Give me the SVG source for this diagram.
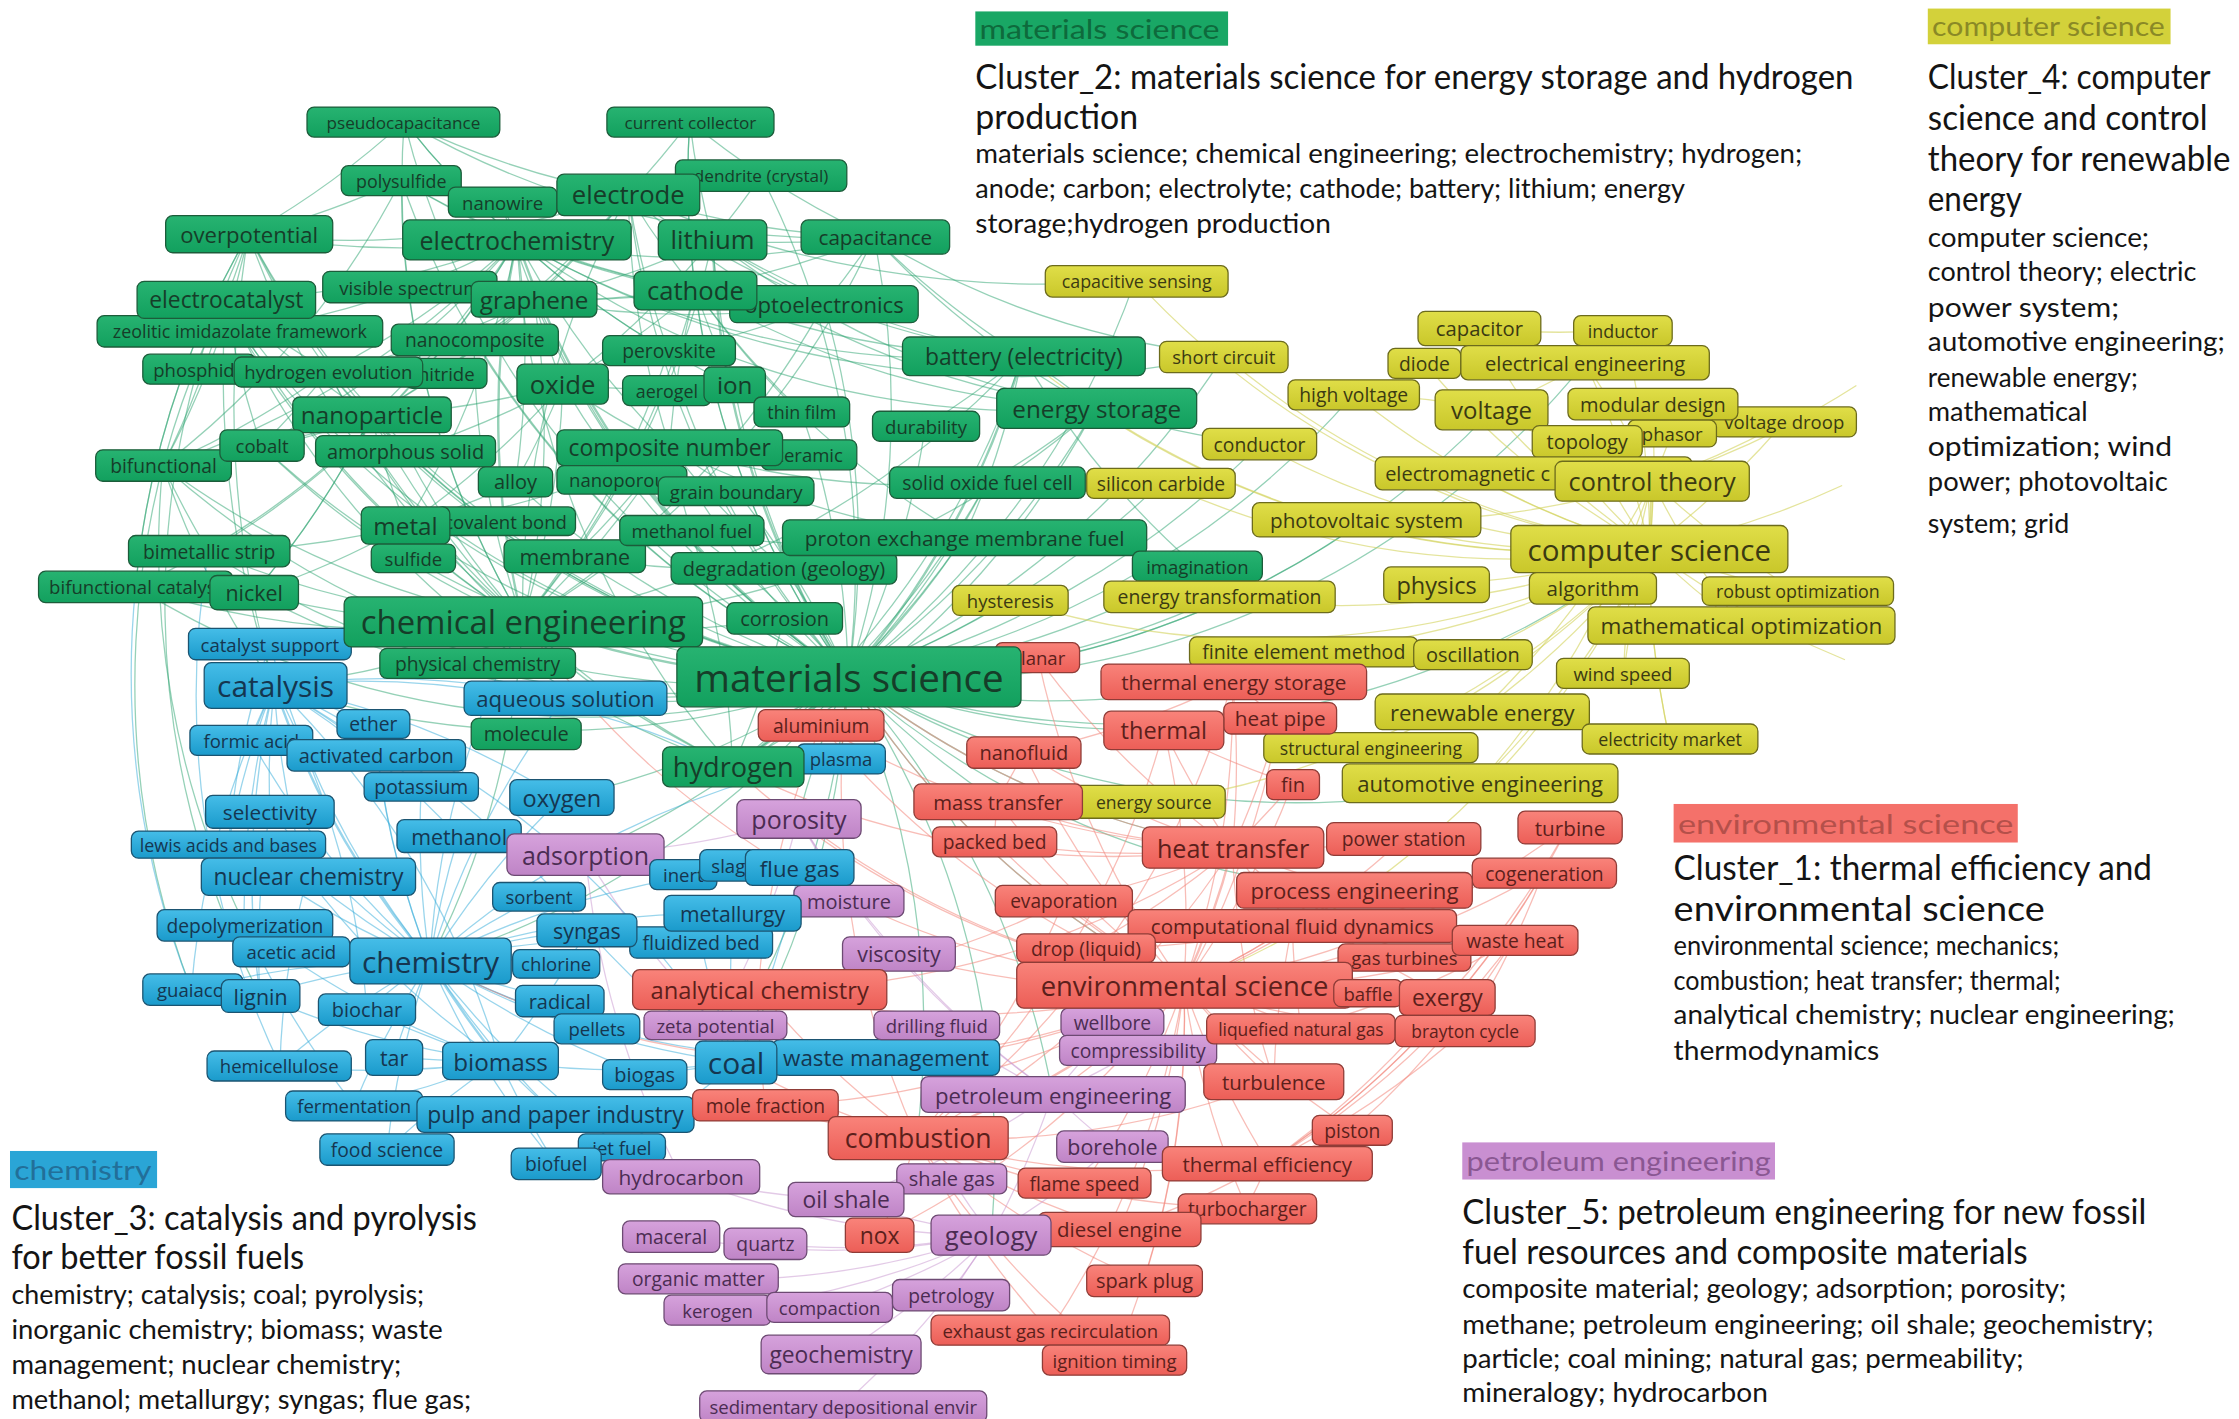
<svg xmlns="http://www.w3.org/2000/svg" width="2239" height="1419" viewBox="0 0 2239 1419">
<defs>
<linearGradient id="fg" x1="0" y1="0" x2="0" y2="1"><stop offset="0" stop-color="#27b371"/><stop offset="1" stop-color="#12a05e"/></linearGradient>
<linearGradient id="fb" x1="0" y1="0" x2="0" y2="1"><stop offset="0" stop-color="#45bde8"/><stop offset="1" stop-color="#1a9acb"/></linearGradient>
<linearGradient id="fy" x1="0" y1="0" x2="0" y2="1"><stop offset="0" stop-color="#e0de48"/><stop offset="1" stop-color="#c9c72a"/></linearGradient>
<linearGradient id="fr" x1="0" y1="0" x2="0" y2="1"><stop offset="0" stop-color="#f9837a"/><stop offset="1" stop-color="#ec5e57"/></linearGradient>
<linearGradient id="fp" x1="0" y1="0" x2="0" y2="1"><stop offset="0" stop-color="#d6a2dc"/><stop offset="1" stop-color="#bf84c6"/></linearGradient>
<style>
text{font-family:"Open Sans","Noto Sans","DejaVu Sans",sans-serif}
.n rect{rx:5px;ry:5px;stroke-width:.9}
.n text{text-anchor:middle;dominant-baseline:central}
.n text.s{text-anchor:start}
.g rect{fill:url(#fg);stroke:#1c5c3a}.g text{fill:#163d29}
.b rect{fill:url(#fb);stroke:#1b5471}.b text{fill:#153650}
.y rect{fill:url(#fy);stroke:#6c6b1c}.y text{fill:#3b3a12}
.r rect{fill:url(#fr);stroke:#8f3c37}.r text{fill:#5c1f1b}
.p rect{fill:url(#fp);stroke:#6d4a73}.p text{fill:#4b2c52}
#links path{fill:none;stroke-width:.9}
#links .w{stroke-width:1.7}
.eg{stroke:#2ba470;stroke-opacity:.5}
.eb{stroke:#33acd9;stroke-opacity:.5}
.er{stroke:#f2867b;stroke-opacity:.55}
.ey{stroke:#d2d25a;stroke-opacity:.6}
.ep{stroke:#c796cf;stroke-opacity:.5}
.leg text{font-family:Lato,"Open Sans",sans-serif;fill:#141414}
.leg .t{font-size:24px}
.leg .d{font-size:19px}
.leg .k{font-size:19px}
</style>
</defs>
<rect width="2239" height="1419" fill="#ffffff"/>
<g transform="scale(1.428)">
<g id="links">
<!-- materials science fan -->
<path class="eg w" d="M594 474A600 600 0 0 1 366 435"/>
<path class="eg w" d="M594 474A600 600 0 0 1 362 168"/>
<path class="eg" d="M594 474A600 600 0 0 1 440 136"/>
<path class="eg w" d="M594 474A600 600 0 0 1 499 168"/>
<path class="eg" d="M594 474A600 600 0 0 1 487 203"/>
<path class="eg" d="M594 474A600 600 0 0 0 612 166"/>
<path class="eg" d="M594 474A600 600 0 0 0 577 213"/>
<path class="eg" d="M594 474A600 600 0 0 1 374 210"/>
<path class="eg" d="M594 474A600 600 0 0 1 394 269"/>
<path class="eg" d="M594 474A600 600 0 0 1 260 291"/>
<path class="eg" d="M594 474A600 600 0 0 1 332 238"/>
<path class="eg" d="M594 474A600 600 0 0 1 468 246"/>
<path class="eg" d="M594 474A600 600 0 0 1 514 270"/>
<path class="eg" d="M594 474A600 600 0 0 1 469 313"/>
<path class="eg" d="M594 474A600 600 0 0 1 361 338"/>
<path class="eg" d="M594 474A600 600 0 0 1 284 368"/>
<path class="eg" d="M594 474A600 600 0 0 1 402 389"/>
<path class="eg w" d="M594 474A600 600 0 0 0 716 249"/>
<path class="eg" d="M594 474A600 600 0 0 0 767 286"/>
<path class="eg" d="M594 474A600 600 0 0 0 691 338"/>
<path class="eg" d="M594 474A600 600 0 0 0 675 376"/>
<path class="eg w" d="M594 474A600 600 0 0 1 513 537"/>
<path class="eg" d="M594 474A600 600 0 0 1 174 164"/>
<path class="eg" d="M594 474A600 600 0 0 1 158 210"/>
<path class="eg" d="M594 474A600 600 0 0 1 230 260"/>
<path class="eg" d="M594 474A600 600 0 0 1 483 85"/>
<path class="eg" d="M594 474A600 600 0 0 1 283 85"/>
<path class="eg" d="M594 474A600 600 0 0 0 533 123"/>
<path class="eg" d="M594 474A600 600 0 0 1 178 415"/>
<path class="eg" d="M594 474A600 600 0 0 1 146 386"/>
<path class="eg" d="M594 474A600 600 0 0 1 95 411"/>
<path class="eg" d="M594 474A600 600 0 0 1 114 326"/>
<path class="eg" d="M594 474A600 600 0 0 1 168 232"/>
<path class="eg" d="M594 474A600 600 0 0 1 183 312"/>
<path class="eg" d="M594 474A600 600 0 0 1 284 316"/>
<path class="eg" d="M594 474A600 600 0 0 1 281 126"/>
<path class="eg" d="M594 474A600 600 0 0 1 351 141"/>
<path class="eg" d="M594 474A600 600 0 0 0 549 398"/>
<path class="eg" d="M594 474A600 600 0 0 0 838 397"/>
<path class="eg" d="M594 474A600 600 0 0 1 192 480"/>
<path class="eg" d="M594 474A600 600 0 0 1 301 673"/>
<path class="eg" d="M594 474A600 600 0 0 0 829 690"/>
<path class="eg" d="M594 474A600 600 0 0 0 863 594"/>
<path class="eg" d="M594 474A600 600 0 0 1 642 797"/>
<path class="eg" d="M594 474A600 600 0 0 0 815 511"/>
<path class="eg" d="M594 474A600 600 0 0 0 863 477"/>
<path class="eg" d="M594 474A600 600 0 0 0 1155 384"/>
<path class="eg" d="M594 474A600 600 0 0 1 410 598"/>
<path class="eg" d="M594 474A600 600 0 0 1 395 489"/>
<path class="eg" d="M594 474A600 600 0 0 1 393 559"/>
<path class="eg" d="M594 474A600 600 0 0 0 795 196"/>
<path class="eg" d="M594 474A600 600 0 0 0 857 249"/>
<path class="eg" d="M594 474A600 600 0 0 0 948 623"/>
<path class="eg" d="M594 474A600 600 0 0 1 515 744"/>
<path class="eg" d="M594 474A600 600 0 0 1 531 693"/>
<path class="eg" d="M594 474A600 600 0 0 1 694 865"/>
<path class="eg" d="M594 474A600 600 0 0 0 1036 548"/>
<path class="eg" d="M594 474A600 600 0 0 0 1045 287"/>
<path class="eg" d="M594 474A600 600 0 0 0 956 364"/>
<path class="eg" d="M594 474A600 600 0 0 1 737 766"/>
<path class="eg" d="M594 474A600 600 0 0 0 1110 254"/>
<path class="eg" d="M594 474A600 600 0 0 0 882 311"/>
<path class="eg" d="M594 474A600 600 0 0 0 559 573"/>
<path class="eg" d="M594 474A600 600 0 0 0 648 298"/>
<path class="eg" d="M594 474A600 600 0 0 0 561 288"/>
<path class="eg" d="M594 474A600 600 0 0 0 515 343"/>
<path class="eg" d="M594 474A600 600 0 0 0 484 372"/>
<path class="eg" d="M594 474A600 600 0 0 0 948 276"/>
<path class="eg" d="M594 474A600 600 0 0 0 813 338"/>
<path class="eg" d="M594 474A600 600 0 0 0 854 418"/>
<path class="eg" d="M594 474A600 600 0 0 0 707 420"/>
<path class="eg" d="M594 474A600 600 0 0 0 717 527"/>
<path class="eg" d="M594 474A600 600 0 0 0 698 561"/>
<!-- chemical engineering -->
<path class="eg w" d="M366 435A600 600 0 0 1 362 168"/>
<path class="eg" d="M366 435A600 600 0 0 1 440 136"/>
<path class="eg" d="M366 435A600 600 0 0 0 499 168"/>
<path class="eg" d="M366 435A600 600 0 0 1 174 164"/>
<path class="eg" d="M366 435A600 600 0 0 1 158 210"/>
<path class="eg" d="M366 435A600 600 0 0 1 168 232"/>
<path class="eg" d="M366 435A600 600 0 0 1 230 260"/>
<path class="eg" d="M366 435A600 600 0 0 1 260 291"/>
<path class="eg" d="M366 435A600 600 0 0 0 374 210"/>
<path class="eg" d="M366 435A600 600 0 0 1 114 326"/>
<path class="eg" d="M366 435A600 600 0 0 1 183 312"/>
<path class="eg" d="M366 435A600 600 0 0 1 146 386"/>
<path class="eg" d="M366 435A600 600 0 0 1 95 411"/>
<path class="eg" d="M366 435A600 600 0 0 1 281 126"/>
<path class="eg" d="M366 435A600 600 0 0 0 487 203"/>
<path class="eg" d="M366 435A600 600 0 0 0 394 269"/>
<path class="eg" d="M366 435A600 600 0 0 1 192 480"/>
<path class="eg" d="M366 435A600 600 0 0 1 301 673"/>
<path class="eg" d="M366 435A600 600 0 0 0 513 537"/>
<path class="eg" d="M366 435A600 600 0 0 0 612 166"/>
<path class="eg" d="M366 435A600 600 0 0 0 716 249"/>
<path class="eg" d="M366 435A600 600 0 0 1 178 415"/>
<path class="eg" d="M366 435A600 600 0 0 1 283 85"/>
<path class="eg" d="M366 435A600 600 0 0 0 577 213"/>
<path class="eg" d="M366 435A600 600 0 0 0 468 246"/>
<path class="eg" d="M366 435A600 600 0 0 0 469 313"/>
<path class="eg" d="M366 435A600 600 0 0 1 284 316"/>
<path class="eg" d="M366 435A600 600 0 0 1 332 238"/>
<path class="eg" d="M366 435A600 600 0 0 0 767 286"/>
<path class="eg" d="M366 435A600 600 0 0 0 549 433"/>
<!-- electrochemistry -->
<path class="eg" d="M362 168A600 600 0 0 1 174 164"/>
<path class="eg" d="M362 168A600 600 0 0 1 158 210"/>
<path class="eg" d="M362 168A600 600 0 0 0 487 203"/>
<path class="eg" d="M362 168A600 600 0 0 1 260 291"/>
<path class="eg" d="M362 168A600 600 0 0 1 114 326"/>
<path class="eg" d="M362 168A600 600 0 0 1 230 260"/>
<path class="eg" d="M362 168A600 600 0 0 0 612 166"/>
<path class="eg" d="M362 168A600 600 0 0 0 577 213"/>
<path class="eg" d="M362 168A600 600 0 0 0 468 246"/>
<path class="eg" d="M362 168A600 600 0 0 0 469 313"/>
<path class="eg" d="M362 168A600 600 0 0 1 361 338"/>
<path class="eg" d="M362 168A600 600 0 0 1 283 85"/>
<path class="eg" d="M362 168A600 600 0 0 0 716 249"/>
<path class="eg" d="M362 168A600 600 0 0 1 183 312"/>
<path class="eg" d="M362 168A600 600 0 0 1 95 411"/>
<path class="eg" d="M362 168A600 600 0 0 1 146 386"/>
<path class="eg" d="M362 168A600 600 0 0 0 767 286"/>
<path class="eg" d="M362 168A600 600 0 0 1 168 232"/>
<path class="eg" d="M362 168A600 600 0 0 0 514 270"/>
<path class="eg" d="M362 168A600 600 0 0 1 284 368"/>
<!-- other green links -->
<path class="eg" d="M174 164A600 600 0 0 1 158 210"/>
<path class="eg" d="M174 164A600 600 0 0 0 230 260"/>
<path class="eg" d="M174 164A600 600 0 0 0 260 291"/>
<path class="eg" d="M174 164A600 600 0 0 1 114 326"/>
<path class="eg" d="M158 210A600 600 0 0 0 260 291"/>
<path class="eg" d="M158 210A600 600 0 0 1 114 326"/>
<path class="eg" d="M158 210A600 600 0 0 0 183 312"/>
<path class="eg" d="M230 260A600 600 0 0 0 284 316"/>
<path class="eg" d="M499 168A600 600 0 0 0 716 249"/>
<path class="eg" d="M487 203A600 600 0 0 0 716 249"/>
<path class="eg" d="M440 136A600 600 0 0 0 612 166"/>
<path class="eg" d="M612 166A600 600 0 0 0 767 286"/>
<path class="eg" d="M716 249A600 600 0 0 1 767 286"/>
<path class="eg" d="M469 313A600 600 0 0 1 284 368"/>
<path class="eg" d="M283 85A600 600 0 0 0 440 136"/>
<path class="eg" d="M283 85A600 600 0 0 0 612 166"/>
<path class="eg" d="M483 85A600 600 0 0 0 499 168"/>
<path class="eg" d="M483 85A600 600 0 0 1 440 136"/>
<path class="eg" d="M533 123A600 600 0 0 1 499 168"/>
<path class="eg" d="M577 213A600 600 0 0 1 468 246"/>
<path class="eg" d="M332 238A600 600 0 0 0 374 210"/>
<path class="eg" d="M174 164A600 600 0 0 0 95 411"/>
<path class="eg" d="M281 126A600 600 0 0 1 114 326"/>
<path class="eg" d="M281 126A600 600 0 0 0 487 203"/>
<path class="eg" d="M114 326A600 600 0 0 0 146 386"/>
<path class="eg" d="M178 415A600 600 0 0 0 260 291"/>
<path class="eg" d="M95 411A600 600 0 0 1 174 164"/>
<path class="eg" d="M174 164A600 600 0 0 0 182 697"/>
<path class="eg" d="M158 210A600 600 0 0 0 134 693"/>
<path class="eg" d="M114 326A600 600 0 0 0 171 647"/>
<path class="eg" d="M716 249A600 600 0 0 0 838 397"/>
<path class="eg" d="M612 166A600 600 0 0 0 857 249"/>
<path class="eg" d="M767 286A600 600 0 0 1 691 338"/>
<path class="eg" d="M440 136A600 600 0 0 0 716 249"/>
<path class="eg" d="M499 168A600 600 0 0 0 767 286"/>
<path class="eg" d="M487 203A600 600 0 0 0 675 376"/>
<path class="eg" d="M440 136A600 600 0 0 1 174 164"/>
<path class="eg" d="M440 136A600 600 0 0 1 374 210"/>
<path class="eg" d="M440 136A600 600 0 0 0 487 203"/>
<path class="eg" d="M440 136A600 600 0 0 1 332 238"/>
<path class="eg" d="M440 136A600 600 0 0 1 260 291"/>
<path class="eg" d="M440 136A600 600 0 0 0 468 246"/>
<path class="eg" d="M440 136A600 600 0 0 0 767 286"/>
<path class="eg" d="M440 136A600 600 0 0 0 469 313"/>
<path class="eg" d="M499 168A600 600 0 0 1 394 269"/>
<path class="eg" d="M499 168A600 600 0 0 0 514 270"/>
<path class="eg" d="M499 168A600 600 0 0 0 612 166"/>
<path class="eg" d="M499 168A600 600 0 0 0 577 213"/>
<path class="eg" d="M499 168A600 600 0 0 1 374 210"/>
<path class="eg" d="M487 203A600 600 0 0 0 514 270"/>
<path class="eg" d="M487 203A600 600 0 0 1 394 269"/>
<path class="eg" d="M487 203A600 600 0 0 1 374 210"/>
<path class="eg" d="M487 203A600 600 0 0 0 767 286"/>
<path class="eg" d="M487 203A600 600 0 0 0 469 313"/>
<path class="eg" d="M487 203A600 600 0 0 0 561 288"/>
<path class="eg" d="M374 210A600 600 0 0 1 230 260"/>
<path class="eg" d="M374 210A600 600 0 0 1 260 291"/>
<path class="eg" d="M374 210A600 600 0 0 0 394 269"/>
<path class="eg" d="M374 210A600 600 0 0 0 612 166"/>
<path class="eg" d="M374 210A600 600 0 0 0 577 213"/>
<path class="eg" d="M394 269A600 600 0 0 1 260 291"/>
<path class="eg" d="M394 269A600 600 0 0 0 514 270"/>
<path class="eg" d="M394 269A600 600 0 0 1 284 316"/>
<path class="eg" d="M394 269A600 600 0 0 1 284 368"/>
<path class="eg" d="M394 269A600 600 0 0 0 469 313"/>
<path class="eg" d="M394 269A600 600 0 0 1 361 338"/>
<path class="eg" d="M260 291A600 600 0 0 1 183 312"/>
<path class="eg" d="M260 291A600 600 0 0 1 114 326"/>
<path class="eg" d="M260 291A600 600 0 0 0 284 368"/>
<path class="eg" d="M260 291A600 600 0 0 1 178 415"/>
<path class="eg" d="M469 313A600 600 0 0 1 402 389"/>
<path class="eg" d="M469 313A600 600 0 0 0 515 343"/>
<path class="eg" d="M469 313A600 600 0 0 0 549 398"/>
<path class="eg" d="M469 313A600 600 0 0 0 484 372"/>
<path class="eg" d="M469 313A600 600 0 0 0 675 376"/>
<path class="eg" d="M469 313A600 600 0 0 0 691 338"/>
<path class="eg" d="M513 537A600 600 0 0 0 675 376"/>
<path class="eg" d="M513 537A600 600 0 0 0 484 372"/>
<path class="eg" d="M513 537A600 600 0 0 0 691 338"/>
<path class="eg" d="M513 537A600 600 0 0 0 767 286"/>
<path class="eg" d="M513 537A600 600 0 0 0 716 249"/>
<path class="eg" d="M513 537A600 600 0 0 0 549 433"/>
<path class="eg" d="M513 537A600 600 0 0 1 362 168"/>
<path class="eg" d="M513 537A600 600 0 0 1 158 210"/>
<path class="eg" d="M513 537A600 600 0 0 1 230 260"/>
<path class="eg" d="M612 166A600 600 0 0 0 716 249"/>
<path class="eg" d="M612 166A600 600 0 0 1 577 213"/>
<path class="eg" d="M284 368A600 600 0 0 1 178 415"/>
<path class="eg" d="M284 368A600 600 0 0 1 146 386"/>
<path class="eg" d="M284 368A600 600 0 0 0 361 338"/>
<path class="eg" d="M230 260A600 600 0 0 1 158 210"/>
<path class="eg" d="M230 260A600 600 0 0 1 183 312"/>
<path class="eg" d="M230 260A600 600 0 0 1 114 326"/>
<path class="eg" d="M716 249A600 600 0 0 1 691 338"/>
<path class="eg" d="M716 249A600 600 0 0 1 648 298"/>
<path class="eg" d="M675 376A600 600 0 0 0 691 338"/>
<path class="eg" d="M675 376A600 600 0 0 1 484 372"/>
<path class="eg" d="M675 376A600 600 0 0 1 402 389"/>
<path class="eg" d="M174 164A700 700 0 0 0 192 480"/>
<path class="eg" d="M158 210A700 700 0 0 0 192 480"/>
<path class="eg" d="M114 326A600 600 0 0 0 192 480"/>
<path class="eg" d="M281 126A600 600 0 0 1 174 164"/>
<path class="eg" d="M283 85A600 600 0 0 1 174 164"/>
<path class="eg" d="M283 85A600 600 0 0 0 362 168"/>
<path class="eg" d="M483 85A600 600 0 0 0 487 203"/>
<path class="eg" d="M483 85A600 600 0 0 0 612 166"/>
<path class="eg" d="M533 123A600 600 0 0 1 440 136"/>
<path class="eg" d="M351 141A600 600 0 0 0 440 136"/>
<path class="eg" d="M351 141A600 600 0 0 1 362 168"/>
<path class="eg" d="M281 126A600 600 0 0 0 362 168"/>
<path class="eg" d="M440 136A700 700 0 0 0 795 196"/>
<path class="eg" d="M362 168A700 700 0 0 0 857 249"/>
<path class="eg" d="M767 286A600 600 0 0 0 882 311"/>
<!-- chemistry / catalysis -->
<path class="eb w" d="M301 673A600 600 0 0 1 192 480"/>
<path class="eb" d="M301 673A600 600 0 0 1 215 614"/>
<path class="eb" d="M301 673A600 600 0 0 1 189 568"/>
<path class="eb" d="M301 673A600 600 0 0 1 160 591"/>
<path class="eb" d="M301 673A600 600 0 0 1 171 647"/>
<path class="eb" d="M301 673A600 600 0 0 0 182 697"/>
<path class="eb" d="M301 673A600 600 0 0 0 134 693"/>
<path class="eb" d="M301 673A600 600 0 0 0 257 707"/>
<path class="eb" d="M301 673A600 600 0 0 0 196 746"/>
<path class="eb" d="M301 673A600 600 0 0 0 276 740"/>
<path class="eb w" d="M301 673A600 600 0 0 0 350 743"/>
<path class="eb" d="M301 673A600 600 0 0 0 248 774"/>
<path class="eb" d="M301 673A600 600 0 0 0 271 805"/>
<path class="eb" d="M301 673A600 600 0 0 0 389 780"/>
<path class="eb" d="M301 673A600 600 0 0 0 389 815"/>
<path class="eb" d="M301 673A600 600 0 0 0 515 744"/>
<path class="eb" d="M301 673A600 600 0 0 1 513 640"/>
<path class="eb" d="M301 673A600 600 0 0 1 411 651"/>
<path class="eb" d="M301 673A600 600 0 0 1 321 586"/>
<path class="eb" d="M301 673A600 600 0 0 1 295 551"/>
<path class="eb" d="M301 673A600 600 0 0 1 264 528"/>
<path class="eb" d="M301 673A600 600 0 0 1 176 519"/>
<path class="eb" d="M301 673A600 600 0 0 1 189 451"/>
<path class="eb" d="M301 673A600 600 0 0 1 377 628"/>
<path class="eb" d="M301 673A600 600 0 0 0 391 700"/>
<path class="eb" d="M301 673A600 600 0 0 0 418 720"/>
<path class="eb" d="M301 673A600 600 0 0 0 451 752"/>
<path class="eb" d="M301 673A600 600 0 0 0 435 803"/>
<path class="eb" d="M301 673A600 600 0 0 1 491 661"/>
<path class="eb" d="M301 673A600 600 0 0 1 560 607"/>
<path class="eb" d="M301 673A600 600 0 0 0 620 740"/>
<path class="eb" d="M301 673A600 600 0 0 1 393 559"/>
<path class="eb" d="M301 673A600 600 0 0 1 395 489"/>
<path class="eb" d="M301 673A600 600 0 0 1 366 435"/>
<path class="eb" d="M301 673A600 600 0 0 1 389 674"/>
<path class="eb" d="M301 673A600 600 0 0 1 262 506"/>
<path class="eb" d="M301 673A600 600 0 0 1 589 531"/>
<path class="eb" d="M192 480A600 600 0 0 0 189 568"/>
<path class="eb" d="M192 480A600 600 0 0 0 176 519"/>
<path class="eb" d="M192 480A600 600 0 0 1 264 528"/>
<path class="eb" d="M192 480A600 600 0 0 0 215 614"/>
<path class="eb" d="M192 480A600 600 0 0 0 160 591"/>
<path class="eb" d="M192 480A600 600 0 0 0 171 647"/>
<path class="eb" d="M192 480A600 600 0 0 1 295 551"/>
<path class="eb" d="M192 480A600 600 0 0 1 321 586"/>
<path class="eb" d="M192 480A600 600 0 0 0 182 697"/>
<path class="eb" d="M192 480A600 600 0 0 1 257 707"/>
<path class="eb" d="M192 480A600 600 0 0 1 350 743"/>
<path class="eb" d="M192 480A600 600 0 0 1 262 506"/>
<path class="eb" d="M192 480A600 600 0 0 1 515 744"/>
<path class="eb" d="M192 480A600 600 0 0 1 395 489"/>
<path class="eb" d="M192 480A600 600 0 0 1 393 559"/>
<path class="eb" d="M192 480A600 600 0 0 0 134 693"/>
<path class="eb" d="M192 480A600 600 0 0 1 513 537"/>
<path class="eb" d="M192 480A600 600 0 0 1 411 651"/>
<path class="eb" d="M350 743A600 600 0 0 1 248 774"/>
<path class="eb" d="M350 743A600 600 0 0 1 196 746"/>
<path class="eb" d="M350 743A600 600 0 0 1 257 707"/>
<path class="eb" d="M350 743A600 600 0 0 1 276 740"/>
<path class="eb" d="M350 743A600 600 0 0 0 389 780"/>
<path class="eb" d="M350 743A600 600 0 0 0 389 815"/>
<path class="eb" d="M350 743A600 600 0 0 0 515 744"/>
<path class="eb" d="M350 743A600 600 0 0 0 411 651"/>
<path class="eb" d="M350 743A600 600 0 0 0 418 720"/>
<path class="eb" d="M350 743A600 600 0 0 0 271 805"/>
<path class="eb" d="M350 743A600 600 0 0 1 182 697"/>
<path class="eb" d="M350 743A600 600 0 0 1 171 647"/>
<path class="eb" d="M515 744A600 600 0 0 0 620 740"/>
<path class="eb" d="M515 744A600 600 0 0 0 560 607"/>
<path class="eb" d="M515 744A600 600 0 0 1 451 752"/>
<path class="eb" d="M515 744A600 600 0 0 1 513 640"/>
<path class="eb" d="M515 744A600 600 0 0 1 491 661"/>
<path class="eb" d="M515 744A600 600 0 0 1 411 651"/>
<path class="eb" d="M515 744A600 600 0 0 1 435 803"/>
<path class="eb" d="M95 411A600 600 0 0 0 134 693"/>
<path class="eb" d="M146 386A600 600 0 0 0 196 746"/>
<path class="eb" d="M189 451A600 600 0 0 0 160 591"/>
<path class="eb" d="M215 614A600 600 0 0 0 196 746"/>
<path class="eb" d="M215 614A600 600 0 0 0 350 743"/>
<path class="eb" d="M189 568A600 600 0 0 0 182 697"/>
<path class="eb" d="M171 647A600 600 0 0 0 248 774"/>
<!-- environmental science -->
<path class="er w" d="M829 690A600 600 0 0 0 863 594"/>
<path class="er w" d="M829 690A600 600 0 0 1 642 797"/>
<path class="er" d="M829 690A600 600 0 0 0 815 511"/>
<path class="er" d="M829 690A600 600 0 0 0 863 477"/>
<path class="er" d="M829 690A600 600 0 0 0 948 623"/>
<path class="er" d="M829 690A600 600 0 0 0 905 648"/>
<path class="er" d="M829 690A600 600 0 0 1 531 693"/>
<path class="er" d="M829 690A600 600 0 0 0 888 814"/>
<path class="er" d="M829 690A600 600 0 0 0 892 757"/>
<path class="er" d="M829 690A600 600 0 0 1 784 861"/>
<path class="er" d="M829 690A600 600 0 0 0 983 587"/>
<path class="er" d="M829 690A600 600 0 0 0 1098 579"/>
<path class="er" d="M829 690A600 600 0 0 0 1081 610"/>
<path class="er" d="M829 690A600 600 0 0 0 1060 658"/>
<path class="er" d="M829 690A600 600 0 0 0 1013 698"/>
<path class="er" d="M829 690A600 600 0 0 0 1026 721"/>
<path class="er" d="M829 690A600 600 0 0 1 911 720"/>
<path class="er" d="M829 690A600 600 0 0 1 698 561"/>
<path class="er" d="M829 690A600 600 0 0 1 717 527"/>
<path class="er" d="M829 690A600 600 0 0 1 696 589"/>
<path class="er" d="M829 690A600 600 0 0 1 745 631"/>
<path class="er" d="M829 690A600 600 0 0 0 905 549"/>
<path class="er" d="M829 690A600 600 0 0 0 896 503"/>
<path class="er" d="M829 690A600 600 0 0 0 947 791"/>
<path class="er" d="M829 690A600 600 0 0 0 873 846"/>
<path class="er" d="M829 690A600 600 0 0 1 760 828"/>
<path class="er" d="M829 690A600 600 0 0 1 801 897"/>
<path class="er" d="M829 690A600 600 0 0 1 735 932"/>
<path class="er" d="M829 690A600 600 0 0 1 780 952"/>
<path class="er" d="M829 690A600 600 0 0 1 536 774"/>
<path class="er" d="M829 690A600 600 0 0 1 616 865"/>
<path class="er" d="M829 690A600 600 0 0 1 575 508"/>
<path class="er" d="M829 690A600 600 0 0 1 727 461"/>
<path class="er" d="M829 690A600 600 0 0 1 513 537"/>
<path class="er" d="M829 690A600 600 0 0 1 301 673"/>
<path class="er" d="M829 690A600 600 0 0 1 366 435"/>
<path class="er" d="M829 690A600 600 0 0 1 594 474"/>
<path class="er" d="M829 690A600 600 0 0 1 559 573"/>
<path class="er" d="M829 690A600 600 0 0 1 515 744"/>
<path class="er" d="M829 690A600 600 0 0 1 629 668"/>
<path class="er" d="M829 690A600 600 0 0 1 737 766"/>
<!-- heat transfer -->
<path class="er" d="M863 594A600 600 0 0 1 815 511"/>
<path class="er" d="M863 594A600 600 0 0 0 863 477"/>
<path class="er" d="M863 594A600 600 0 0 0 905 648"/>
<path class="er" d="M863 594A600 600 0 0 0 905 549"/>
<path class="er" d="M863 594A600 600 0 0 0 896 503"/>
<path class="er" d="M863 594A600 600 0 0 1 717 527"/>
<path class="er" d="M863 594A600 600 0 0 1 698 561"/>
<path class="er" d="M863 594A600 600 0 0 1 696 589"/>
<path class="er" d="M863 594A600 600 0 0 1 745 631"/>
<path class="er" d="M863 594A600 600 0 0 0 948 623"/>
<path class="er" d="M863 594A600 600 0 0 0 983 587"/>
<path class="er" d="M863 594A600 600 0 0 0 1013 698"/>
<path class="er" d="M863 594A600 600 0 0 0 892 757"/>
<path class="er" d="M863 594A600 600 0 0 1 594 474"/>
<path class="er" d="M863 594A600 600 0 0 1 642 797"/>
<path class="er" d="M863 594A600 600 0 0 1 513 537"/>
<path class="er" d="M863 594A600 600 0 0 1 531 693"/>
<path class="er" d="M863 594A600 600 0 0 1 575 508"/>
<path class="er" d="M863 594A600 600 0 0 1 727 461"/>
<path class="er" d="M863 594A600 600 0 0 1 760 664"/>
<!-- combustion -->
<path class="er" d="M642 797A600 600 0 0 1 616 865"/>
<path class="er" d="M642 797A600 600 0 0 0 784 861"/>
<path class="er" d="M642 797A600 600 0 0 0 760 828"/>
<path class="er" d="M642 797A600 600 0 0 0 888 814"/>
<path class="er" d="M642 797A600 600 0 0 0 735 932"/>
<path class="er" d="M642 797A600 600 0 0 0 780 952"/>
<path class="er" d="M642 797A600 600 0 0 0 801 897"/>
<path class="er" d="M642 797A600 600 0 0 1 536 774"/>
<path class="er" d="M642 797A600 600 0 0 1 531 693"/>
<path class="er" d="M642 797A600 600 0 0 0 873 846"/>
<path class="er" d="M642 797A600 600 0 0 0 892 757"/>
<path class="er" d="M642 797A600 600 0 0 1 515 744"/>
<path class="er" d="M642 797A600 600 0 0 0 863 477"/>
<path class="er" d="M642 797A600 600 0 0 0 815 511"/>
<path class="er" d="M642 797A600 600 0 0 0 745 631"/>
<path class="er" d="M642 797A600 600 0 0 1 594 474"/>
<path class="er" d="M531 693A600 600 0 0 0 536 774"/>
<path class="er" d="M531 693A600 600 0 0 1 575 508"/>
<path class="er" d="M531 693A600 600 0 0 0 745 631"/>
<!-- thermal efficiency and process links -->
<path class="er" d="M888 814A600 600 0 0 0 947 791"/>
<path class="er" d="M888 814A600 600 0 0 1 873 846"/>
<path class="er" d="M888 814A600 600 0 0 0 1013 698"/>
<path class="er" d="M888 814A600 600 0 0 0 1026 721"/>
<path class="er" d="M888 814A600 600 0 0 0 1060 658"/>
<path class="er" d="M888 814A600 600 0 0 0 1081 610"/>
<path class="er" d="M888 814A600 600 0 0 0 1098 579"/>
<path class="er" d="M888 814A600 600 0 0 1 784 861"/>
<path class="er" d="M1013 698A600 600 0 0 0 1098 579"/>
<path class="er" d="M1026 721A600 600 0 0 0 1081 610"/>
<path class="er" d="M911 720A600 600 0 0 0 1060 658"/>
<path class="er" d="M947 791A600 600 0 0 0 1060 658"/>
<path class="er" d="M948 623A600 600 0 0 0 1060 658"/>
<path class="er" d="M948 623A600 600 0 0 0 1081 610"/>
<path class="er" d="M948 623A600 600 0 0 1 905 648"/>
<path class="er" d="M905 648A600 600 0 0 1 760 664"/>
<path class="er" d="M905 648A600 600 0 0 0 911 720"/>
<path class="er" d="M905 648A600 600 0 0 0 892 757"/>
<path class="er" d="M863 477A600 600 0 0 1 717 527"/>
<path class="er" d="M863 477A600 600 0 0 0 896 503"/>
<path class="er" d="M815 511A600 600 0 0 0 905 549"/>
<path class="er" d="M717 527A600 600 0 0 1 698 561"/>
<path class="er" d="M696 589A600 600 0 0 0 698 561"/>
<!-- computer science -->
<path class="ey w" d="M1155 384A600 600 0 0 0 1157 337"/>
<path class="ey" d="M1155 384A600 600 0 0 1 1045 287"/>
<path class="ey" d="M1155 384A600 600 0 0 0 1110 254"/>
<path class="ey" d="M1155 384A600 600 0 0 1 1036 230"/>
<path class="ey" d="M1155 384A600 600 0 0 0 1137 231"/>
<path class="ey" d="M1155 384A600 600 0 0 1 997 254"/>
<path class="ey" d="M1155 384A600 600 0 0 1 948 276"/>
<path class="ey" d="M1155 384A600 600 0 0 0 1157 283"/>
<path class="ey" d="M1155 384A600 600 0 0 0 1250 295"/>
<path class="ey" d="M1155 384A600 600 0 0 1 1112 310"/>
<path class="ey" d="M1155 384A600 600 0 0 1 1030 332"/>
<path class="ey" d="M1155 384A600 600 0 0 1 956 364"/>
<path class="ey" d="M1155 384A600 600 0 0 1 1006 409"/>
<path class="ey" d="M1155 384A600 600 0 0 1 1115 412"/>
<path class="ey" d="M1155 384A600 600 0 0 0 1258 414"/>
<path class="ey" d="M1155 384A600 600 0 0 0 1219 438"/>
<path class="ey" d="M1155 384A600 600 0 0 1 1031 459"/>
<path class="ey" d="M1155 384A600 600 0 0 1 913 456"/>
<path class="ey" d="M1155 384A600 600 0 0 0 1137 471"/>
<path class="ey" d="M1155 384A600 600 0 0 1 1037 498"/>
<path class="ey" d="M1155 384A600 600 0 0 0 1169 517"/>
<path class="ey" d="M1155 384A600 600 0 0 1 960 524"/>
<path class="ey" d="M1155 384A600 600 0 0 1 1036 548"/>
<path class="ey" d="M1155 384A600 600 0 0 1 854 418"/>
<path class="ey" d="M1155 384A600 600 0 0 1 882 311"/>
<path class="ey" d="M1155 384A600 600 0 0 1 857 249"/>
<path class="ey" d="M1155 384A600 600 0 0 1 795 196"/>
<path class="ey" d="M1155 384A600 600 0 0 1 707 420"/>
<path class="ey" d="M1155 384A600 600 0 0 1 808 562"/>
<path class="ey" d="M1155 384A600 600 0 0 1 813 338"/>
<path class="ey" d="M1155 384A600 600 0 0 1 829 690"/>
<path class="ey" d="M1155 384A600 600 0 0 1 767 286"/>
<path class="ey" d="M1155 384A600 600 0 0 1 716 249"/>
<path class="ey" d="M1155 384A600 600 0 0 0 1290 340"/>
<path class="ey" d="M1155 384A600 600 0 0 0 1292 462"/>
<path class="ey" d="M1157 337A600 600 0 0 1 1045 287"/>
<path class="ey" d="M1157 337A600 600 0 0 0 1110 254"/>
<path class="ey" d="M1157 337A600 600 0 0 0 1250 295"/>
<path class="ey" d="M1157 337A600 600 0 0 0 1171 303"/>
<path class="ey" d="M1157 337A600 600 0 0 1 956 364"/>
<path class="ey" d="M1157 337A600 600 0 0 1 1037 498"/>
<path class="ey" d="M1157 337A600 600 0 0 0 1219 438"/>
<path class="ey" d="M1157 337A600 600 0 0 0 1258 414"/>
<path class="ey" d="M1157 337A600 600 0 0 0 1137 471"/>
<path class="ey" d="M1157 337A600 600 0 0 1 1036 548"/>
<path class="ey" d="M1157 337A600 600 0 0 0 1169 517"/>
<path class="ey" d="M1157 337A600 600 0 0 0 1300 270"/>
<path class="ey" d="M1045 287A600 600 0 0 0 1110 254"/>
<path class="ey" d="M1036 230A600 600 0 0 0 1137 231"/>
<path class="ey" d="M948 276A600 600 0 0 1 1045 287"/>
<!-- geology / petroleum engineering -->
<path class="ep" d="M694 865A600 600 0 0 1 592 840"/>
<path class="ep" d="M694 865A600 600 0 0 1 666 825"/>
<path class="ep" d="M694 865A600 600 0 0 0 666 907"/>
<path class="ep" d="M694 865A600 600 0 0 1 589 948"/>
<path class="ep" d="M694 865A600 600 0 0 1 502 917"/>
<path class="ep" d="M694 865A600 600 0 0 1 581 916"/>
<path class="ep" d="M694 865A600 600 0 0 1 488 896"/>
<path class="ep" d="M694 865A600 600 0 0 1 470 865"/>
<path class="ep" d="M694 865A600 600 0 0 1 536 871"/>
<path class="ep" d="M694 865A600 600 0 0 0 779 803"/>
<path class="ep" d="M694 865A600 600 0 0 0 737 766"/>
<path class="ep" d="M694 865A600 600 0 0 1 477 824"/>
<path class="ep" d="M694 865A600 600 0 0 1 590 984"/>
<path class="ep" d="M737 766A600 600 0 0 1 656 718"/>
<path class="ep" d="M737 766A600 600 0 0 0 779 716"/>
<path class="ep" d="M737 766A600 600 0 0 0 797 735"/>
<path class="ep" d="M737 766A600 600 0 0 1 629 668"/>
<path class="ep" d="M737 766A600 600 0 0 1 559 573"/>
<path class="ep" d="M737 766A600 600 0 0 0 779 803"/>
<path class="ep" d="M737 766A600 600 0 0 1 592 840"/>
<path class="ep" d="M559 573A600 600 0 0 1 410 598"/>
<path class="ep" d="M559 573A600 600 0 0 0 595 631"/>
<path class="ep" d="M559 573A600 600 0 0 0 629 668"/>
<path class="ep" d="M559 573A600 600 0 0 1 501 717"/>
<path class="ep" d="M410 598A600 600 0 0 0 501 717"/>
<path class="ep" d="M410 598A600 600 0 0 0 477 824"/>
<path class="ep" d="M592 840A600 600 0 0 1 477 824"/>
</g>

<g id="nodes">
<g id="n-pseudocapacitance" class="n g" transform="translate(215 75)"><rect width="135" height="21"/><text x="67.5" y="10.5" font-size="12">pseudocapacitance</text></g>
<g id="n-current-collector" class="n g" transform="translate(425 75)"><rect width="117" height="21"/><text x="58.5" y="10.5" font-size="12">current collector</text></g>
<g id="n-polysulfide" class="n g" transform="translate(239 116)"><rect width="84" height="21"/><text x="42" y="10.5" font-size="12.5">polysulfide</text></g>
<g id="n-dendrite" class="n g" transform="translate(473 112)"><rect width="120" height="22"/><text x="60" y="11" font-size="12">dendrite (crystal)</text></g>
<g id="n-nanowire" class="n g" transform="translate(314 131)"><rect width="76" height="21"/><text x="38" y="10.5" font-size="13">nanowire</text></g>
<g id="n-electrode" class="n g" transform="translate(390 122)"><rect width="100" height="29"/><text x="50" y="14.5" font-size="18">electrode</text></g>
<g id="n-overpotential" class="n g" transform="translate(116 151)"><rect width="117" height="26"/><text x="58.5" y="13" font-size="15.5">overpotential</text></g>
<g id="n-electrochemistry" class="n g" transform="translate(282 154)"><rect width="160" height="28"/><text x="80" y="14" font-size="17.5">electrochemistry</text></g>
<g id="n-lithium" class="n g" transform="translate(461 154)"><rect width="76" height="28"/><text x="38" y="14" font-size="18">lithium</text></g>
<g id="n-capacitance" class="n g" transform="translate(561 154)"><rect width="104" height="24"/><text x="52" y="12" font-size="14.5">capacitance</text></g>
<g id="n-visible-spectrum" class="n g" transform="translate(226 190)"><rect width="122" height="22"/><text x="61" y="11" font-size="13">visible spectrum</text></g>
<g id="n-zeolitic" class="n g" transform="translate(68 221)"><rect width="200" height="22"/><text x="100" y="11" font-size="12.5">zeolitic imidazolate framework</text></g>
<g id="n-electrocatalyst" class="n g" transform="translate(96 197)"><rect width="125" height="26"/><text x="62.5" y="13" font-size="16">electrocatalyst</text></g>
<g id="n-graphene" class="n g" transform="translate(330 197)"><rect width="88" height="25"/><text x="44" y="12.5" font-size="17">graphene</text></g>
<g id="n-optoelectronics" class="n g" transform="translate(511 200)"><rect width="132" height="26"/><text x="66" y="13" font-size="15.5">optoelectronics</text></g>
<g id="n-cathode" class="n g" transform="translate(444 190)"><rect width="86" height="27"/><text x="43" y="13.5" font-size="18">cathode</text></g>
<g id="n-nanocomposite" class="n g" transform="translate(274 227)"><rect width="117" height="22"/><text x="58.5" y="11" font-size="13.5">nanocomposite</text></g>
<g id="n-phosphide" class="n g" transform="translate(100 248)"><rect width="79" height="21"/><text x="39.5" y="10.5" font-size="13">phosphide</text></g>
<g id="n-nitride" class="n g" transform="translate(284 251)"><rect width="57" height="21"/><text x="28.5" y="10.5" font-size="13">nitride</text></g>
<g id="n-hydrogen-evolution" class="n g" transform="translate(164 250)"><rect width="132" height="21"/><text x="66" y="10.5" font-size="13">hydrogen evolution</text></g>
<g id="n-perovskite" class="n g" transform="translate(422 235)"><rect width="93" height="21"/><text x="46.5" y="10.5" font-size="13.5">perovskite</text></g>
<g id="n-oxide" class="n g" transform="translate(362 255)"><rect width="64" height="28"/><text x="32" y="14" font-size="18">oxide</text></g>
<g id="n-aerogel" class="n g" transform="translate(436 263)"><rect width="62" height="21"/><text x="31" y="10.5" font-size="12.5">aerogel</text></g>
<g id="n-ion" class="n g" transform="translate(493 257)"><rect width="43" height="25"/><text x="21.5" y="12.5" font-size="17">ion</text></g>
<g id="n-thin-film" class="n g" transform="translate(528 278)"><rect width="67" height="21"/><text x="33.5" y="10.5" font-size="12.5">thin film</text></g>
<g id="n-durability" class="n g" transform="translate(611 288)"><rect width="75" height="21"/><text x="37.5" y="10.5" font-size="13">durability</text></g>
<g id="n-battery" class="n g" transform="translate(632 236)"><rect width="170" height="27"/><text x="85" y="13.5" font-size="16">battery (electricity)</text></g>
<g id="n-energy-storage" class="n g" transform="translate(698 272)"><rect width="140" height="28"/><text x="70" y="14" font-size="17">energy storage</text></g>
<g id="n-nanoparticle" class="n g" transform="translate(205 278)"><rect width="111" height="25"/><text x="55.5" y="12.5" font-size="17">nanoparticle</text></g>
<g id="n-bifunctional" class="n g" transform="translate(67 315)"><rect width="95" height="22"/><text x="47.5" y="11" font-size="13.5">bifunctional</text></g>
<g id="n-cobalt" class="n g" transform="translate(154 301)"><rect width="59" height="22"/><text x="29.5" y="11" font-size="13">cobalt</text></g>
<g id="n-amorphous-solid" class="n g" transform="translate(221 305)"><rect width="126" height="22"/><text x="63" y="11" font-size="14">amorphous solid</text></g>
<g id="n-ceramic" class="n g" transform="translate(533 308)"><rect width="67" height="21"/><text x="33.5" y="10.5" font-size="13">ceramic</text></g>
<g id="n-composite-number" class="n g" transform="translate(390 301)"><rect width="158" height="25"/><text x="79" y="12.5" font-size="16">composite number</text></g>
<g id="n-nanoporous" class="n g" transform="translate(390 326)"><rect width="91" height="20"/><text x="45.5" y="10" font-size="13">nanoporous</text></g>
<g id="n-grain-boundary" class="n g" transform="translate(461 334)"><rect width="109" height="20"/><text x="54.5" y="10" font-size="13">grain boundary</text></g>
<g id="n-alloy" class="n g" transform="translate(335 327)"><rect width="52" height="21"/><text x="26" y="10.5" font-size="14">alloy</text></g>
<g id="n-sofc" class="n g" transform="translate(623 327)"><rect width="137" height="22"/><text x="68.5" y="11" font-size="13.5">solid oxide fuel cell</text></g>
<g id="n-covalent-bond" class="n g" transform="translate(305 355)"><rect width="98" height="20"/><text x="49" y="10" font-size="13">covalent bond</text></g>
<g id="n-metal" class="n g" transform="translate(253 355)"><rect width="62" height="26"/><text x="31" y="13" font-size="17">metal</text></g>
<g id="n-sulfide" class="n g" transform="translate(260 381)"><rect width="59" height="20"/><text x="29.5" y="10" font-size="13">sulfide</text></g>
<g id="n-membrane" class="n g" transform="translate(353 378)"><rect width="99" height="23"/><text x="49.5" y="11.5" font-size="15">membrane</text></g>
<g id="n-methanol-fuel" class="n g" transform="translate(434 361)"><rect width="101" height="21"/><text x="50.5" y="10.5" font-size="13">methanol fuel</text></g>
<g id="n-degradation" class="n g" transform="translate(470 387)"><rect width="158" height="22"/><text x="79" y="11" font-size="14">degradation (geology)</text></g>
<g id="n-pemfc" class="n g" transform="translate(548 364)"><rect width="255" height="25"/><text x="127.5" y="12.5" font-size="14.6">proton exchange membrane fuel</text></g>
<g id="n-imagination" class="n g" transform="translate(793 386)"><rect width="91" height="21"/><text x="45.5" y="10.5" font-size="13">imagination</text></g>
<g id="n-bimetallic-strip" class="n g" transform="translate(90 375)"><rect width="113" height="22"/><text x="56.5" y="11" font-size="13.5">bimetallic strip</text></g>
<g id="n-bifunctional-catalyst" class="n g" transform="translate(27 400)"><rect width="136" height="22"/><text x="68" y="11" font-size="13">bifunctional catalyst</text></g>
<g id="n-nickel" class="n g" transform="translate(147 403)"><rect width="62" height="24"/><text x="31" y="12" font-size="15">nickel</text></g>
<g id="n-catalyst-support" class="n b" transform="translate(132 440)"><rect width="114" height="22"/><text x="57" y="11" font-size="13">catalyst support</text></g>
<g id="n-physical-chemistry" class="n g" transform="translate(266 454)"><rect width="137" height="21"/><text x="68.5" y="10.5" font-size="13.5">physical chemistry</text></g>
<g id="n-chemical-engineering" class="n g" transform="translate(241 418)"><rect width="251" height="35"/><text x="125.5" y="17.5" font-size="23">chemical engineering</text></g>
<g id="n-corrosion" class="n g" transform="translate(509 422)"><rect width="81" height="22"/><text x="40.5" y="11" font-size="14">corrosion</text></g>
<g id="n-planar" class="n r" transform="translate(697 450)"><rect width="59" height="21"/><text x="29.5" y="10.5" font-size="13">planar</text></g>
<g id="n-materials-science" class="n g" transform="translate(474 453)"><rect width="241" height="42"/><text x="120.5" y="21" font-size="27">materials science</text></g>
<g id="n-molecule" class="n g" transform="translate(330 503)"><rect width="77" height="22"/><text x="38.5" y="11" font-size="14">molecule</text></g>
<g id="n-plasma" class="n b" transform="translate(558 521)"><rect width="62" height="21"/><text x="31" y="10.5" font-size="13">plasma</text></g>
<g id="n-hydrogen" class="n g" transform="translate(464 523)"><rect width="99" height="28"/><text x="49.5" y="14" font-size="19">hydrogen</text></g>

<g id="n-capacitive-sensing" class="n y" transform="translate(732 186)"><rect width="128" height="22"/><text x="64" y="11" font-size="12.5">capacitive sensing</text></g>
<g id="n-short-circuit" class="n y" transform="translate(812 239)"><rect width="90" height="22"/><text x="45" y="11" font-size="13">short circuit</text></g>
<g id="n-conductor" class="n y" transform="translate(842 300)"><rect width="80" height="22"/><text x="40" y="11" font-size="13.5">conductor</text></g>
<g id="n-silicon-carbide" class="n y" transform="translate(761 328)"><rect width="104" height="21"/><text x="52" y="10.5" font-size="13.5">silicon carbide</text></g>
<g id="n-high-voltage" class="n y" transform="translate(902 266)"><rect width="92" height="21"/><text x="46" y="10.5" font-size="13.5">high voltage</text></g>
<g id="n-diode" class="n y" transform="translate(972 244)"><rect width="51" height="21"/><text x="25.5" y="10.5" font-size="13.5">diode</text></g>
<g id="n-capacitor" class="n y" transform="translate(993 218)"><rect width="86" height="24"/><text x="43" y="12" font-size="14.2">capacitor</text></g>
<g id="n-inductor" class="n y" transform="translate(1102 221)"><rect width="69" height="21"/><text x="34.5" y="10.5" font-size="12.5">inductor</text></g>
<g id="n-electrical-engineering" class="n y" transform="translate(1023 242)"><rect width="174" height="24"/><text x="87" y="12" font-size="14.1">electrical engineering</text></g>
<g id="n-voltage" class="n y" transform="translate(1005 273)"><rect width="79" height="28"/><text x="39.5" y="14" font-size="16.8">voltage</text></g>
<g id="n-voltage-droop" class="n y" transform="translate(1199 285)"><rect width="101" height="21"/><text x="50.5" y="10.5" font-size="13">voltage droop</text></g>
<g id="n-phasor" class="n y" transform="translate(1140 294)"><rect width="62" height="19"/><text x="31" y="9.5" font-size="13">phasor</text></g>
<g id="n-modular-design" class="n y" transform="translate(1098 272)"><rect width="119" height="22"/><text x="59.5" y="11" font-size="14">modular design</text></g>
<g id="n-topology" class="n y" transform="translate(1073 298)"><rect width="77" height="23"/><text x="38.5" y="11.5" font-size="14">topology</text></g>
<g id="n-electromagnetic-compatibility" class="n y" transform="translate(963 320)"><rect width="222" height="23"/><text class="s" x="7" y="11.5" font-size="14">electromagnetic c</text></g>
<g id="n-control-theory" class="n y" transform="translate(1089 323)"><rect width="136" height="28"/><text x="68" y="14" font-size="17.7">control theory</text></g>
<g id="n-photovoltaic-system" class="n y" transform="translate(877 352)"><rect width="160" height="24"/><text x="80" y="12" font-size="14.5">photovoltaic system</text></g>
<g id="n-computer-science" class="n y" transform="translate(1058 368)"><rect width="194" height="33"/><text x="97" y="16.5" font-size="20.7">computer science</text></g>
<g id="n-physics" class="n y" transform="translate(969 397)"><rect width="74" height="25"/><text x="37" y="12.5" font-size="16.5">physics</text></g>
<g id="n-algorithm" class="n y" transform="translate(1071 401)"><rect width="89" height="22"/><text x="44.5" y="11" font-size="14.4">algorithm</text></g>
<g id="n-robust-optimization" class="n y" transform="translate(1192 404)"><rect width="134" height="20"/><text x="67" y="10" font-size="12.5">robust optimization</text></g>
<g id="n-mathematical-optimization" class="n y" transform="translate(1112 425)"><rect width="215" height="26"/><text x="107.5" y="13" font-size="15.8">mathematical optimization</text></g>
<g id="n-hysteresis" class="n y" transform="translate(667 410)"><rect width="81" height="21"/><text x="40.5" y="10.5" font-size="13">hysteresis</text></g>
<g id="n-energy-transformation" class="n y" transform="translate(773 407)"><rect width="162" height="22"/><text x="81" y="11" font-size="13.6">energy transformation</text></g>
<g id="n-finite-element-method" class="n y" transform="translate(833 446)"><rect width="160" height="21"/><text x="80" y="10.5" font-size="13.7">finite element method</text></g>
<g id="n-oscillation" class="n y" transform="translate(990 448)"><rect width="83" height="21"/><text x="41.5" y="10.5" font-size="14">oscillation</text></g>
<g id="n-wind-speed" class="n y" transform="translate(1090 461)"><rect width="93" height="21"/><text x="46.5" y="10.5" font-size="13">wind speed</text></g>
<g id="n-renewable-energy" class="n y" transform="translate(963 486)"><rect width="150" height="25"/><text x="75" y="12.5" font-size="15.5">renewable energy</text></g>
<g id="n-structural-engineering" class="n y" transform="translate(885 513)"><rect width="150" height="21"/><text x="75" y="10.5" font-size="12.4">structural engineering</text></g>
<g id="n-electricity-market" class="n y" transform="translate(1108 507)"><rect width="123" height="21"/><text x="61.5" y="10.5" font-size="12.5">electricity market</text></g>
<g id="n-automotive-engineering" class="n y" transform="translate(940 535)"><rect width="193" height="27"/><text x="96.5" y="13.5" font-size="15.5">automotive engineering</text></g>
<g id="n-energy-source" class="n y" transform="translate(752 550)"><rect width="106" height="23"/><text x="56" y="11.5" font-size="12.3">energy source</text></g>

<g id="n-catalysis" class="n b" transform="translate(143 464)"><rect width="100" height="32"/><text x="50" y="16" font-size="21">catalysis</text></g>
<g id="n-aqueous-solution" class="n b" transform="translate(325 477)"><rect width="142" height="24"/><text x="71" y="12" font-size="15.5">aqueous solution</text></g>
<g id="n-ether" class="n b" transform="translate(236 497)"><rect width="51" height="20"/><text x="25.5" y="10" font-size="13.5">ether</text></g>
<g id="n-formic-acid" class="n b" transform="translate(133 508)"><rect width="86" height="21"/><text x="43" y="10.5" font-size="13">formic acid</text></g>
<g id="n-activated-carbon" class="n b" transform="translate(201 518)"><rect width="125" height="22"/><text x="62.5" y="11" font-size="14">activated carbon</text></g>
<g id="n-potassium" class="n b" transform="translate(255 541)"><rect width="80" height="20"/><text x="40" y="10" font-size="13.5">potassium</text></g>
<g id="n-oxygen" class="n b" transform="translate(357 546)"><rect width="73" height="25"/><text x="36.5" y="12.5" font-size="16.5">oxygen</text></g>
<g id="n-selectivity" class="n b" transform="translate(144 557)"><rect width="90" height="23"/><text x="45" y="11.5" font-size="14.5">selectivity</text></g>
<g id="n-methanol" class="n b" transform="translate(278 574)"><rect width="87" height="23"/><text x="43.5" y="11.5" font-size="15">methanol</text></g>
<g id="n-lewis-acids" class="n b" transform="translate(92 582)"><rect width="136" height="19"/><text x="68" y="9.5" font-size="12.5">lewis acids and bases</text></g>
<g id="n-nuclear-chemistry" class="n b" transform="translate(141 601)"><rect width="150" height="26"/><text x="75" y="13" font-size="16">nuclear chemistry</text></g>
<g id="n-sorbent" class="n b" transform="translate(345 618)"><rect width="65" height="20"/><text x="32.5" y="10" font-size="13">sorbent</text></g>
<g id="n-depolymerization" class="n b" transform="translate(110 637)"><rect width="123" height="22"/><text x="61.5" y="11" font-size="13.5">depolymerization</text></g>
<g id="n-acetic-acid" class="n b" transform="translate(163 656)"><rect width="82" height="21"/><text x="41" y="10.5" font-size="13">acetic acid</text></g>
<g id="n-chemistry" class="n b" transform="translate(245 657)"><rect width="113" height="32"/><text x="56.5" y="16" font-size="21">chemistry</text></g>
<g id="n-chlorine" class="n b" transform="translate(359 665)"><rect width="61" height="20"/><text x="30.5" y="10" font-size="13">chlorine</text></g>
<g id="n-guaiacol" class="n b" transform="translate(100 682)"><rect width="70" height="22"/><text x="35" y="11" font-size="13">guaiacol</text></g>
<g id="n-lignin" class="n b" transform="translate(155 686)"><rect width="55" height="23"/><text x="27.5" y="11.5" font-size="15">lignin</text></g>
<g id="n-biochar" class="n b" transform="translate(223 696)"><rect width="68" height="22"/><text x="34" y="11" font-size="14">biochar</text></g>
<g id="n-radical" class="n b" transform="translate(361 690)"><rect width="62" height="22"/><text x="31" y="11" font-size="14">radical</text></g>
<g id="n-pellets" class="n b" transform="translate(388 710)"><rect width="60" height="21"/><text x="30" y="10.5" font-size="13">pellets</text></g>
<g id="n-hemicellulose" class="n b" transform="translate(145 736)"><rect width="101" height="21"/><text x="50.5" y="10.5" font-size="13">hemicellulose</text></g>
<g id="n-tar" class="n b" transform="translate(256 728)"><rect width="40" height="25"/><text x="20" y="12.5" font-size="15">tar</text></g>
<g id="n-biomass" class="n b" transform="translate(310 730)"><rect width="81" height="26"/><text x="40.5" y="13" font-size="17">biomass</text></g>
<g id="n-fermentation" class="n b" transform="translate(200 764)"><rect width="96" height="21"/><text x="48" y="10.5" font-size="13">fermentation</text></g>
<g id="n-pulp-paper" class="n b" transform="translate(292 768)"><rect width="194" height="25"/><text x="97" y="12.5" font-size="16">pulp and paper industry</text></g>
<g id="n-food-science" class="n b" transform="translate(224 794)"><rect width="94" height="22"/><text x="47" y="11" font-size="13.5">food science</text></g>
<g id="n-jet-fuel" class="n b" transform="translate(405 794)"><rect width="61" height="19"/><text x="30.5" y="9.5" font-size="13">jet fuel</text></g>
<g id="n-biofuel" class="n b" transform="translate(358 804)"><rect width="63" height="22"/><text x="31.5" y="11" font-size="13.5">biofuel</text></g>
<g id="n-biogas" class="n b" transform="translate(422 742)"><rect width="59" height="21"/><text x="29.5" y="10.5" font-size="14">biogas</text></g>
<g id="n-waste-management" class="n b" transform="translate(541 728)"><rect width="159" height="25"/><text x="79.5" y="12.5" font-size="15.7">waste management</text></g>
<g id="n-coal" class="n b" transform="translate(487 729)"><rect width="57" height="30"/><text x="28.5" y="15" font-size="21">coal</text></g>
<g id="n-fluidized-bed" class="n b" transform="translate(441 649)"><rect width="100" height="22"/><text x="50" y="11" font-size="13.7">fluidized bed</text></g>
<g id="n-syngas" class="n b" transform="translate(376 640)"><rect width="70" height="23"/><text x="35" y="11.5" font-size="15">syngas</text></g>
<g id="n-moisture" class="n p" transform="translate(556 620)"><rect width="77" height="22"/><text x="38.5" y="11" font-size="14">moisture</text></g>
<g id="n-metallurgy" class="n b" transform="translate(465 627)"><rect width="96" height="25"/><text x="48" y="12.5" font-size="14.8">metallurgy</text></g>
<g id="n-porosity" class="n p" transform="translate(516 560)"><rect width="87" height="27"/><text x="43.5" y="13.5" font-size="17.5">porosity</text></g>
<g id="n-adsorption" class="n p" transform="translate(355 584)"><rect width="110" height="29"/><text x="55" y="14.5" font-size="17.5">adsorption</text></g>
<g id="n-inert" class="n b" transform="translate(455 602)"><rect width="47" height="21"/><text x="23.5" y="10.5" font-size="13">inert</text></g>
<g id="n-slag" class="n b" transform="translate(490 595)"><rect width="40" height="22"/><text x="20" y="11" font-size="13">slag</text></g>
<g id="n-flue-gas" class="n b" transform="translate(522 595)"><rect width="76" height="25"/><text x="38" y="12.5" font-size="15.5">flue gas</text></g>

<g id="n-viscosity" class="n p" transform="translate(590 656)"><rect width="79" height="24"/><text x="39.5" y="12" font-size="15">viscosity</text></g>
<g id="n-zeta-potential" class="n p" transform="translate(451 708)"><rect width="100" height="20"/><text x="50" y="10" font-size="13">zeta potential</text></g>
<g id="n-drilling-fluid" class="n p" transform="translate(612 708)"><rect width="88" height="20"/><text x="44" y="10" font-size="13">drilling fluid</text></g>
<g id="n-wellbore" class="n p" transform="translate(743 706)"><rect width="72" height="20"/><text x="36" y="10" font-size="13.5">wellbore</text></g>
<g id="n-compressibility" class="n p" transform="translate(742 725)"><rect width="110" height="21"/><text x="55" y="10.5" font-size="13.5">compressibility</text></g>
<g id="n-petroleum-engineering" class="n p" transform="translate(645 754)"><rect width="185" height="25"/><text x="92.5" y="12.5" font-size="15.5">petroleum engineering</text></g>
<g id="n-borehole" class="n p" transform="translate(740 792)"><rect width="78" height="22"/><text x="39" y="11" font-size="15">borehole</text></g>
<g id="n-hydrocarbon" class="n p" transform="translate(422 812)"><rect width="110" height="24"/><text x="55" y="12" font-size="14.6">hydrocarbon</text></g>
<g id="n-shale-gas" class="n p" transform="translate(628 815)"><rect width="77" height="21"/><text x="38.5" y="10.5" font-size="14">shale gas</text></g>
<g id="n-oil-shale" class="n p" transform="translate(552 828)"><rect width="81" height="24"/><text x="40.5" y="12" font-size="16">oil shale</text></g>
<g id="n-maceral" class="n p" transform="translate(436 855)"><rect width="68" height="22"/><text x="34" y="11" font-size="13.5">maceral</text></g>
<g id="n-quartz" class="n p" transform="translate(507 860)"><rect width="58" height="22"/><text x="29" y="11" font-size="13.5">quartz</text></g>
<g id="n-organic-matter" class="n p" transform="translate(433 885)"><rect width="112" height="21"/><text x="56" y="10.5" font-size="13.5">organic matter</text></g>
<g id="n-kerogen" class="n p" transform="translate(465 907)"><rect width="75" height="21"/><text x="37.5" y="10.5" font-size="13">kerogen</text></g>
<g id="n-compaction" class="n p" transform="translate(537 905)"><rect width="88" height="21"/><text x="44" y="10.5" font-size="13">compaction</text></g>
<g id="n-petrology" class="n p" transform="translate(625 896)"><rect width="82" height="22"/><text x="41" y="11" font-size="13.5">petrology</text></g>
<g id="n-geochemistry" class="n p" transform="translate(533 935)"><rect width="112" height="27"/><text x="56" y="13.5" font-size="16">geochemistry</text></g>
<g id="n-sedimentary" class="n p" transform="translate(490 974)"><rect width="201" height="22"/><text x="100.5" y="11" font-size="13">sedimentary depositional envir</text></g>

<g id="n-aluminium" class="n r" transform="translate(531 497)"><rect width="88" height="22"/><text x="44" y="11" font-size="13.5">aluminium</text></g>
<g id="n-nanofluid" class="n r" transform="translate(677 516)"><rect width="80" height="22"/><text x="40" y="11" font-size="14">nanofluid</text></g>
<g id="n-thermal-energy-storage" class="n r" transform="translate(771 465)"><rect width="186" height="25"/><text x="93" y="12.5" font-size="14.5">thermal energy storage</text></g>
<g id="n-heat-pipe" class="n r" transform="translate(857 492)"><rect width="79" height="22"/><text x="39.5" y="11" font-size="14.5">heat pipe</text></g>
<g id="n-thermal" class="n r" transform="translate(773 498)"><rect width="84" height="27"/><text x="42" y="13.5" font-size="16.5">thermal</text></g>
<g id="n-fin" class="n r" transform="translate(887 539)"><rect width="37" height="21"/><text x="18.5" y="10.5" font-size="14">fin</text></g>
<g id="n-mass-transfer" class="n r" transform="translate(640 549)"><rect width="118" height="25"/><text x="59" y="12.5" font-size="14.2">mass transfer</text></g>
<g id="n-packed-bed" class="n r" transform="translate(653 579)"><rect width="87" height="21"/><text x="43.5" y="10.5" font-size="13.5">packed bed</text></g>
<g id="n-heat-transfer" class="n r" transform="translate(800 579)"><rect width="127" height="29"/><text x="63.5" y="14.5" font-size="17.6">heat transfer</text></g>
<g id="n-power-station" class="n r" transform="translate(929 576)"><rect width="108" height="23"/><text x="54" y="11.5" font-size="13.5">power station</text></g>
<g id="n-turbine" class="n r" transform="translate(1063 568)"><rect width="73" height="23"/><text x="36.5" y="11.5" font-size="14.5">turbine</text></g>
<g id="n-cogeneration" class="n r" transform="translate(1031 601)"><rect width="101" height="21"/><text x="50.5" y="10.5" font-size="13.5">cogeneration</text></g>
<g id="n-process-engineering" class="n r" transform="translate(866 611)"><rect width="165" height="25"/><text x="82.5" y="12.5" font-size="15.5">process engineering</text></g>
<g id="n-evaporation" class="n r" transform="translate(697 620)"><rect width="96" height="22"/><text x="48" y="11" font-size="13.4">evaporation</text></g>
<g id="n-cfd" class="n r" transform="translate(790 637)"><rect width="230" height="23"/><text x="115" y="11.5" font-size="14.4">computational fluid dynamics</text></g>
<g id="n-gas-turbines" class="n r" transform="translate(937 661)"><rect width="93" height="19"/><text x="46.5" y="9.5" font-size="13">gas turbines</text></g>
<g id="n-waste-heat" class="n r" transform="translate(1017 648)"><rect width="88" height="21"/><text x="44" y="10.5" font-size="13.5">waste heat</text></g>
<g id="n-drop-liquid" class="n r" transform="translate(712 654)"><rect width="97" height="20"/><text x="48.5" y="10" font-size="13.6">drop (liquid)</text></g>
<g id="n-environmental-science" class="n r" transform="translate(712 674)"><rect width="235" height="32"/><text x="117.5" y="16" font-size="19.2">environmental science</text></g>
<g id="n-baffle" class="n r" transform="translate(934 686)"><rect width="48" height="19"/><text x="24" y="9.5" font-size="13">baffle</text></g>
<g id="n-exergy" class="n r" transform="translate(980 686)"><rect width="67" height="25"/><text x="33.5" y="12.5" font-size="16">exergy</text></g>
<g id="n-lng" class="n r" transform="translate(845 710)"><rect width="132" height="21"/><text x="66" y="10.5" font-size="12.2">liquefied natural gas</text></g>
<g id="n-brayton-cycle" class="n r" transform="translate(977 711)"><rect width="98" height="22"/><text x="49" y="11" font-size="12.2">brayton cycle</text></g>
<g id="n-turbulence" class="n r" transform="translate(843 745)"><rect width="98" height="25"/><text x="49" y="12.5" font-size="14.3">turbulence</text></g>
<g id="n-piston" class="n r" transform="translate(919 781)"><rect width="56" height="21"/><text x="28" y="10.5" font-size="13.5">piston</text></g>
<g id="n-thermal-efficiency" class="n r" transform="translate(814 803)"><rect width="147" height="24"/><text x="73.5" y="12" font-size="14.3">thermal efficiency</text></g>
<g id="n-flame-speed" class="n r" transform="translate(713 818)"><rect width="93" height="21"/><text x="46.5" y="10.5" font-size="13.5">flame speed</text></g>
<g id="n-turbocharger" class="n r" transform="translate(825 836)"><rect width="97" height="21"/><text x="48.5" y="10.5" font-size="13.5">turbocharger</text></g>
<g id="n-diesel-engine" class="n r" transform="translate(727 849)"><rect width="114" height="24"/><text x="57" y="12" font-size="14.3">diesel engine</text></g>
<g id="n-spark-plug" class="n r" transform="translate(761 886)"><rect width="81" height="22"/><text x="40.5" y="11" font-size="14">spark plug</text></g>
<g id="n-egr" class="n r" transform="translate(652 921)"><rect width="167" height="21"/><text x="83.5" y="10.5" font-size="13">exhaust gas recirculation</text></g>
<g id="n-ignition-timing" class="n r" transform="translate(730 942)"><rect width="101" height="21"/><text x="50.5" y="10.5" font-size="13">ignition timing</text></g>
<g id="n-analytical-chemistry" class="n r" transform="translate(443 679)"><rect width="178" height="28"/><text x="89" y="14" font-size="16.6">analytical chemistry</text></g>
<g id="n-mole-fraction" class="n r" transform="translate(485 763)"><rect width="102" height="22"/><text x="51" y="11" font-size="13.5">mole fraction</text></g>
<g id="n-combustion" class="n r" transform="translate(580 782)"><rect width="126" height="30"/><text x="63" y="15" font-size="18.6">combustion</text></g>
<g id="n-nox" class="n r" transform="translate(592 853)"><rect width="48" height="24"/><text x="24" y="12" font-size="16">nox</text></g>
<g id="n-geology" class="n p" transform="translate(652 851)"><rect width="84" height="28"/><text x="42" y="14" font-size="18">geology</text></g>
</g>

<g id="legend-materials" class="leg">
<rect x="683" y="8" width="177" height="24" fill="#19a765"/>
<text class="k" x="686" y="27" style="fill:#0e6a3c" textLength="168" lengthAdjust="spacingAndGlyphs">materials science</text>
<text class="t" x="683" y="62" textLength="615" lengthAdjust="spacingAndGlyphs">Cluster_2: materials science for energy storage and hydrogen</text>
<text class="t" x="683" y="90" textLength="114" lengthAdjust="spacingAndGlyphs">production</text>
<text class="d" x="683" y="114" textLength="579" lengthAdjust="spacingAndGlyphs">materials science; chemical engineering; electrochemistry; hydrogen;</text>
<text class="d" x="683" y="139" textLength="497" lengthAdjust="spacingAndGlyphs">anode; carbon; electrolyte; cathode; battery; lithium; energy</text>
<text class="d" x="683" y="163" textLength="249" lengthAdjust="spacingAndGlyphs">storage;hydrogen production</text>
</g>
<g id="legend-computer" class="leg">
<rect x="1350" y="6" width="170" height="25" fill="#d3d13a"/>
<text class="k" x="1353" y="25" style="fill:#8a8926" textLength="163" lengthAdjust="spacingAndGlyphs">computer science</text>
<text class="t" x="1350" y="62" textLength="198" lengthAdjust="spacingAndGlyphs">Cluster_4: computer</text>
<text class="t" x="1350" y="91" textLength="196" lengthAdjust="spacingAndGlyphs">science and control</text>
<text class="t" x="1350" y="120" textLength="212" lengthAdjust="spacingAndGlyphs">theory for renewable</text>
<text class="t" x="1350" y="148" textLength="66" lengthAdjust="spacingAndGlyphs">energy</text>
<text class="d" x="1350" y="173" textLength="155" lengthAdjust="spacingAndGlyphs">computer science;</text>
<text class="d" x="1350" y="197" textLength="188" lengthAdjust="spacingAndGlyphs">control theory; electric</text>
<text class="d" x="1350" y="222" textLength="134" lengthAdjust="spacingAndGlyphs">power system;</text>
<text class="d" x="1350" y="246" textLength="208" lengthAdjust="spacingAndGlyphs">automotive engineering;</text>
<text class="d" x="1350" y="271" textLength="147" lengthAdjust="spacingAndGlyphs">renewable energy;</text>
<text class="d" x="1350" y="295" textLength="112" lengthAdjust="spacingAndGlyphs">mathematical</text>
<text class="d" x="1350" y="319" textLength="171" lengthAdjust="spacingAndGlyphs">optimization; wind</text>
<text class="d" x="1350" y="344" textLength="168" lengthAdjust="spacingAndGlyphs">power; photovoltaic</text>
<text class="d" x="1350" y="373" textLength="99" lengthAdjust="spacingAndGlyphs">system; grid</text>
</g>
<g id="legend-environmental" class="leg">
<rect x="1172" y="563" width="241" height="27" fill="#f4716a"/>
<text class="k" x="1175" y="584" style="fill:#b4504a" textLength="235" lengthAdjust="spacingAndGlyphs">environmental science</text>
<text class="t" x="1172" y="616" textLength="335" lengthAdjust="spacingAndGlyphs">Cluster_1:  thermal efficiency and</text>
<text class="t" x="1172" y="645" textLength="260" lengthAdjust="spacingAndGlyphs">environmental science</text>
<text class="d" x="1172" y="669" textLength="270" lengthAdjust="spacingAndGlyphs">environmental science; mechanics;</text>
<text class="d" x="1172" y="693" textLength="271" lengthAdjust="spacingAndGlyphs">combustion; heat transfer; thermal;</text>
<text class="d" x="1172" y="717" textLength="351" lengthAdjust="spacingAndGlyphs">analytical chemistry; nuclear engineering;</text>
<text class="d" x="1172" y="742" textLength="144" lengthAdjust="spacingAndGlyphs">thermodynamics</text>
</g>
<g id="legend-petroleum" class="leg">
<rect x="1024" y="800" width="219" height="26" fill="#c98fd1"/>
<text class="k" x="1027" y="820" style="fill:#8a5792" textLength="213" lengthAdjust="spacingAndGlyphs">petroleum engineering</text>
<text class="t" x="1024" y="857" textLength="479" lengthAdjust="spacingAndGlyphs">Cluster_5: petroleum engineering for new fossil</text>
<text class="t" x="1024" y="885" textLength="396" lengthAdjust="spacingAndGlyphs">fuel resources and composite materials</text>
<text class="d" x="1024" y="909" textLength="423" lengthAdjust="spacingAndGlyphs">composite material; geology; adsorption; porosity;</text>
<text class="d" x="1024" y="934" textLength="484" lengthAdjust="spacingAndGlyphs">methane; petroleum engineering; oil shale; geochemistry;</text>
<text class="d" x="1024" y="958" textLength="393" lengthAdjust="spacingAndGlyphs">particle; coal mining; natural gas; permeability;</text>
<text class="d" x="1024" y="982" textLength="214" lengthAdjust="spacingAndGlyphs">mineralogy; hydrocarbon</text>
</g>
<g id="legend-chemistry" class="leg">
<rect x="7" y="806" width="103" height="26" fill="#2aa5d6"/>
<text class="k" x="10" y="826" style="fill:#226f99" textLength="96" lengthAdjust="spacingAndGlyphs">chemistry</text>
<text class="t" x="8" y="861" textLength="326" lengthAdjust="spacingAndGlyphs">Cluster_3: catalysis and pyrolysis</text>
<text class="t" x="8" y="889" textLength="205" lengthAdjust="spacingAndGlyphs">for better fossil fuels</text>
<text class="d" x="8" y="913" textLength="289" lengthAdjust="spacingAndGlyphs">chemistry; catalysis; coal; pyrolysis;</text>
<text class="d" x="8" y="938" textLength="302" lengthAdjust="spacingAndGlyphs">inorganic chemistry; biomass; waste</text>
<text class="d" x="8" y="962" textLength="273" lengthAdjust="spacingAndGlyphs">management; nuclear chemistry;</text>
<text class="d" x="8" y="987" textLength="322" lengthAdjust="spacingAndGlyphs">methanol; metallurgy; syngas; flue gas;</text>
</g>
</g>
</svg>
